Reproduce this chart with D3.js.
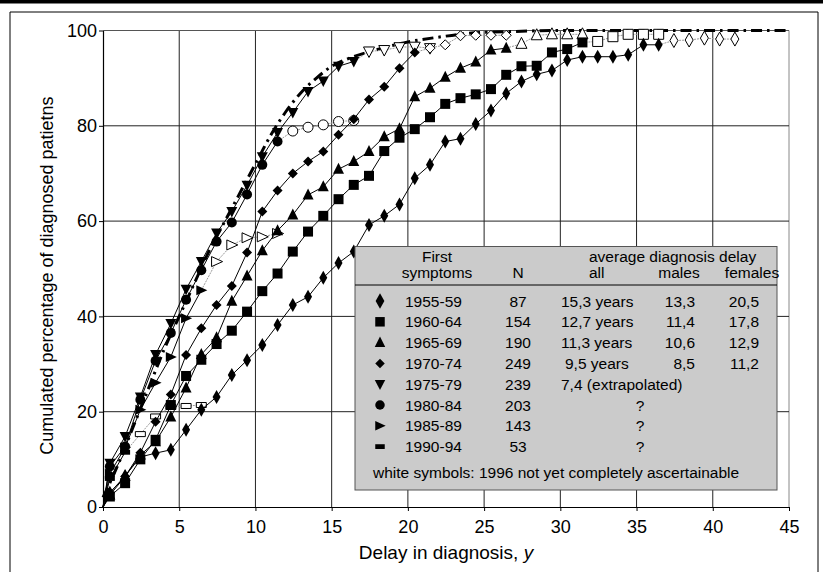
<!DOCTYPE html>
<html>
<head>
<meta charset="utf-8">
<script src="https://cdn.jsdelivr.net/npm/d3@7"></script>
<style>
  body { margin: 0; background: #fff; }
  svg text { font-family: "Liberation Sans", Arial, sans-serif; fill: #000; }
</style>
</head>
<body>
<svg id="chart" width="823" height="572"></svg>
<script>
// ---- data ----
const xTicks = [0, 5, 10, 15, 20, 25, 30, 35, 40, 45];
const yTicks = [0, 20, 40, 60, 80, 100];

// one point per year of delay (plotted at mid-year)
const delayGrid = [0.45, 1.45, 2.45, 3.45, 4.45, 5.45, 6.45, 7.45, 8.45, 9.45,
  10.45, 11.45, 12.45, 13.45, 14.45, 15.45, 16.45, 17.45, 18.45, 19.45,
  20.45, 21.45, 22.45, 23.45, 24.45, 25.45, 26.45, 27.45, 28.45, 29.45,
  30.45, 31.45, 32.45, 33.45, 34.45, 35.45, 36.45, 37.45, 38.45, 39.45,
  40.45, 41.45];

const cohorts = ["1955-59", "1960-64", "1965-69", "1970-74", "1975-79", "1980-84", "1985-89", "1990-94"];
const cohortN = [87, 154, 190, 249, 239, 203, 143, 53];
const avgAll = ["15,3 years", "12,7 years", "11,3 years", "9,5 years", "7,4 (extrapolated)", "?", "?", "?"];
const avgMales = ["13,3", "11,4", "10,6", "8,5", "", "", "", ""];
const avgFemales = ["20,5", "17,8", "12,9", "11,2", "", "", "", ""];
const symbols = ["tallDiamond", "square", "triUp", "diamond", "triDown", "circle", "triRight", "flatRect"];

// filled (completely ascertained) values, starting at the first delay
const filled1955 = [3.0, 6.5, 10.5, 11.3, 12.0, 16.2, 20.4, 23.1, 27.7, 30.8, 34.0, 38.2, 42.4, 44.1, 48.1, 51.2,
  53.6, 59.2, 61.1, 63.5, 69.0, 71.8, 76.7, 77.3, 80.4, 83.2, 86.8, 89.3, 90.8, 91.6, 93.8, 94.5, 94.5, 94.5, 94.9, 97.0, 97.0];
const filled1960 = [2.2, 5.0, 10.0, 14.1, 21.4, 27.5, 30.9, 34.2, 37.0, 41.0, 45.3, 49.0, 53.6, 57.8, 61.1, 64.6,
  67.6, 69.5, 74.7, 77.5, 79.3, 81.8, 84.6, 85.8, 86.6, 87.7, 90.7, 92.5, 92.6, 95.4, 96.1, 97.5];
const filled1965 = [2.5, 6.4, 10.9, 13.7, 18.9, 25.0, 32.0, 35.5, 43.2, 48.5, 53.8, 58.0, 61.3, 65.5, 67.2, 70.9,
  72.5, 74.6, 77.7, 79.4, 86.1, 87.9, 90.2, 92.1, 93.4, 95.9, 96.3];
const filled1970 = [3.0, 6.4, 11.4, 17.9, 23.6, 31.9, 37.5, 42.4, 46.4, 53.4, 62.0, 66.4, 70.0, 72.5, 74.6, 78.1,
  81.4, 85.5, 88.2, 92.1, 95.4];
const filled1975 = [9.2, 14.8, 23.1, 32.0, 38.5, 45.7, 51.5, 57.5, 62.0, 67.5, 73.5, 78.6, 82.8, 87.2, 89.4, 92.5, 93.5];
const filled1980 = [8.5, 12.7, 22.5, 30.7, 36.5, 43.5, 49.7, 55.7, 59.7, 65.6, 71.8, 76.7];
const filled1985 = [7.0, 12.5, 20.4, 26.1, 31.5, 39.6, 45.5];
const filled1990 = [6.0, 11.5];

// white symbols (1996 not yet completely ascertainable), continuing after the filled ones
const open1955 = [97.9, 98.0, 98.4, 98.2, 98.2];
const open1960 = [97.7, 98.7, 99.2, 99.2, 99.2];
const open1965 = [97.2, 99.0, 99.2, 99.2, 99.2];
const open1970 = [96.3, 97.0, 98.9, 99.0, 99.0, 99.0];
const open1975 = [95.6, 95.9, 96.5, 96.6, 96.3];
const open1980 = [78.9, 79.7, 80.2, 80.9, 81.1];
const open1985 = [51.5, 55.0, 56.5, 56.7, 57.4];
const open1990 = [15.3, 19.0, 21.0, 21.2, 21.4];

// extrapolated curve (thick dash-dot)
const extraDelay = [0, 1, 2, 3, 4, 5, 6, 7, 8, 9, 10, 11, 12, 13, 14, 15, 16, 18, 20, 22, 24, 27, 30, 45];
const extraValue = [2, 9, 17, 25, 33, 40, 47, 54, 60, 66, 72, 78, 83, 87, 90, 92.5, 94, 96, 97.6, 98.6, 99.4, 99.8, 100, 100];

const filledSets = [filled1955, filled1960, filled1965, filled1970, filled1975, filled1980, filled1985, filled1990];
const openSets = [open1955, open1960, open1965, open1970, open1975, open1980, open1985, open1990];

// ---- layout ----
let svg = d3.select("#chart");
let x = d3.scaleLinear().domain([0, 45]).range([103, 789]);
let y = d3.scaleLinear().domain([0, 100]).range([507, 30.5]);

// page decoration: thick bar on top and thin frame
svg.append("rect").attr("x", 0).attr("y", 0).attr("width", 823).attr("height", 3.5).attr("fill", "#000");
svg.append("path").attr("d", "M10,580 V12 H818 V580")
  .attr("fill", "none").attr("stroke", "#000").attr("stroke-width", 1);

// grid
let grid = svg.append("g").attr("class", "grid");
xTicks.filter(d => d > 0).forEach(function(d) {
  grid.append("line")
    .attr("x1", x(d)).attr("x2", x(d)).attr("y1", y(0)).attr("y2", y(100))
    .attr("stroke", d == 45 ? "#888" : "#222").attr("stroke-width", 1);
});
yTicks.filter(d => d > 0).forEach(function(d) {
  grid.append("line")
    .attr("x1", x(0)).attr("x2", x(45)).attr("y1", y(d)).attr("y2", y(d))
    .attr("stroke", d == 100 ? "#555" : "#222").attr("stroke-width", 1);
});

// axes
let xAxis = d3.axisBottom(x).tickValues(xTicks).tickSize(4).tickSizeOuter(0);
let yAxis = d3.axisLeft(y).tickValues(yTicks).tickSize(4).tickSizeOuter(0);
let xGroup = svg.append("g").attr("transform", translate(0, y(0))).call(xAxis);
let yGroup = svg.append("g").attr("transform", translate(x(0), 0)).call(yAxis);
[xGroup, yGroup].forEach(function(g) {
  g.select(".domain").attr("stroke", "#000").attr("stroke-width", 1.2);
  g.selectAll(".tick line").attr("stroke", "#000");
  g.selectAll(".tick text").attr("font-size", 18)
    .attr("font-family", "Liberation Sans, Arial, sans-serif").attr("fill", "#000");
});
xGroup.selectAll(".tick text").attr("dy", "1.05em");
yGroup.selectAll(".tick text").attr("x", -6);

// axis titles
svg.append("text")
  .attr("transform", "translate(" + 53 + "," + (y(49) + 2) + ") rotate(-90)")
  .attr("text-anchor", "middle")
  .attr("font-size", 18)
  .text("Cumulated percentage of diagnosed patietns");

let xTitle = svg.append("text")
  .attr("x", x(22.5)).attr("y", 559)
  .attr("text-anchor", "middle")
  .attr("font-size", 19);
xTitle.append("tspan").text("Delay in diagnosis, ");
xTitle.append("tspan").attr("font-style", "italic").text("y");

// symbol shapes
function symbolPath(type, s) {
  s = s || 1;
  let p;
  switch (type) {
    case "tallDiamond": p = [[0, -7], [4, 0], [0, 7], [-4, 0]]; break;
    case "square": p = [[-5, -5], [5, -5], [5, 5], [-5, 5]]; break;
    case "triUp": p = [[0, -6.5], [5.5, 4.5], [-5.5, 4.5]]; break;
    case "diamond": p = [[0, -5], [5, 0], [0, 5], [-5, 0]]; break;
    case "triDown": p = [[0, 6], [5.5, -4.5], [-5.5, -4.5]]; break;
    case "triRight": p = [[6, 0], [-5, -5], [-5, 5]]; break;
    case "flatRect": p = [[-5, -2.5], [5, -2.5], [5, 2.5], [-5, 2.5]]; break;
    case "circle":
      let r = 5 * s;
      return "M" + (-r) + ",0A" + r + "," + r + " 0 1,0 " + r + ",0A" + r + "," + r + " 0 1,0 " + (-r) + ",0Z";
  }
  return "M" + p.map(q => (q[0] * s) + "," + (q[1] * s)).join("L") + "Z";
}

let line = d3.line().x(d => x(d[0])).y(d => y(d[1]));

// extrapolated curve
svg.append("path")
  .datum(extraDelay.map((d, i) => [d, extraValue[i]]))
  .attr("d", d3.line().curve(d3.curveMonotoneX).x(d => x(d[0])).y(d => y(d[1])))
  .attr("fill", "none").attr("stroke", "#000").attr("stroke-width", 3)
  .attr("stroke-dasharray", "11,5,2.5,5");

// cohort curves, drawn oldest last so it sits on top
let plot = svg.append("g").attr("id", "plot");
for (let k = cohorts.length - 1; k >= 0; k--) {
  let filled = filledSets[k].map((v, i) => [delayGrid[i], v]);
  let open = openSets[k].map((v, i) => [delayGrid[filled.length + i], v]);
  let g = plot.append("g");

  g.append("path").datum([filled[filled.length - 1]].concat(open))
    .attr("d", line).attr("fill", "none")
    .attr("stroke", "#9a9a9a").attr("stroke-width", 1).attr("stroke-dasharray", "2,1");
  g.append("path").datum([[0, 0]].concat(filled))
    .attr("d", line).attr("fill", "none")
    .attr("stroke", "#000").attr("stroke-width", 1);

  g.selectAll(".open").data(open).enter().append("path")
    .attr("transform", d => translate(x(d[0]), y(d[1])))
    .attr("d", symbolPath(symbols[k]))
    .attr("fill", "#fff").attr("stroke", "#000").attr("stroke-width", 1);
  g.selectAll(".filled").data(filled).enter().append("path")
    .attr("transform", d => translate(x(d[0]), y(d[1])))
    .attr("d", symbolPath(symbols[k]))
    .attr("fill", "#000");
}

// legend box
let legend = svg.append("g").attr("class", "legend");
legend.append("rect")
  .attr("x", 355).attr("y", 246.5).attr("width", 422).attr("height", 243.5)
  .attr("fill", "#cbcbcb").attr("stroke", "#555").attr("stroke-width", 1);
legend.append("line")
  .attr("x1", 355).attr("x2", 777).attr("y1", 285).attr("y2", 285)
  .attr("stroke", "#000").attr("stroke-width", 1);

let fs = 15.5;
function legendText(tx, ty, str, anchor) {
  return legend.append("text").attr("x", tx).attr("y", ty)
    .attr("font-size", fs).attr("text-anchor", anchor || "start").text(str);
}
legendText(437, 262, "First", "middle");
legendText(437, 278, "symptoms", "middle");
legendText(518, 278, "N", "middle");
legendText(589, 262, "average diagnosis delay");
legendText(589, 278, "all");
legendText(679, 278, "males", "middle");
legendText(752, 278, "females", "middle");

cohorts.forEach(function(c, i) {
  let cy = 301 + i * 20.8;
  let base = cy + 5.5;
  legend.append("path")
    .attr("transform", translate(380, cy))
    .attr("d", symbolPath(symbols[i], i == 0 ? 1.1 : 0.95))
    .attr("fill", "#000");
  legendText(405, base, c);
  legendText(518, base, cohortN[i], "middle");
  if (avgAll[i] == "?") {
    legendText(640, base, "?", "middle");
  } else {
    legendText(avgAll[i].length < 10 ? 565 : 561, base, avgAll[i]);
  }
  legendText(695, base, avgMales[i], "end");
  legendText(759, base, avgFemales[i], "end");
});
legendText(373, 477.5, "white symbols: 1996 not yet completely ascertainable");

function translate(tx, ty) {
  return "translate(" + tx + "," + ty + ")";
}
</script>
</body>
</html>
